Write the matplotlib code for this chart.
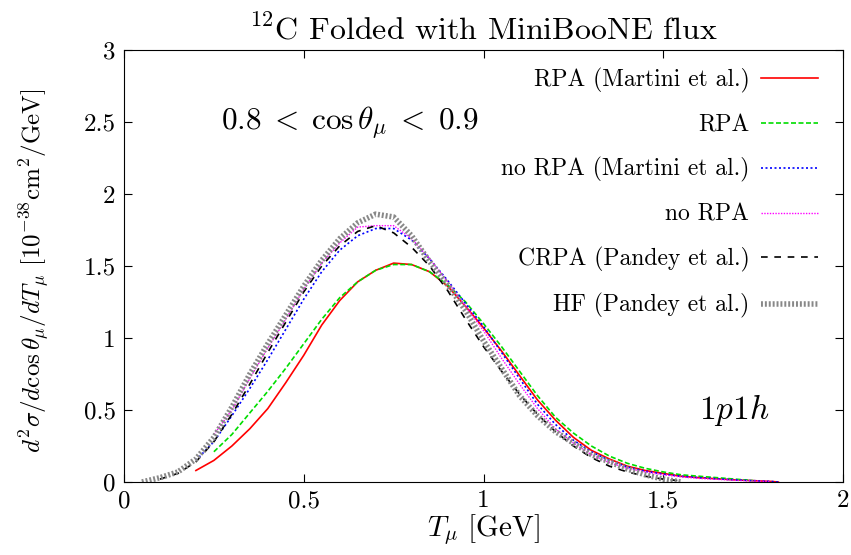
import numpy as np
import matplotlib as mpl
from matplotlib import pyplot as plt

mpl.rcParams['font.family'] = 'serif'
mpl.rcParams['font.serif'] = ['cmr10', 'DejaVu Serif']
mpl.rcParams['mathtext.fontset'] = 'cm'
mpl.rcParams['axes.formatter.use_mathtext'] = True
mpl.rcParams['font.size'] = 17


# (T_mu in GeV, cross section in 1e-38 cm^2/GeV)

x_rpa_m = [0.2, 0.25, 0.3, 0.35, 0.4, 0.45, 0.5, 0.55, 0.6, 0.65, 0.7, 0.75, 0.8, 0.85,
           0.9, 0.95, 1.0, 1.05, 1.1, 1.15, 1.2, 1.25, 1.3, 1.35, 1.4, 1.45, 1.5, 1.55,
           1.6, 1.7, 1.8, 1.82]
y_rpa_m = [0.08, 0.15, 0.25, 0.37, 0.51, 0.69, 0.88, 1.09, 1.26, 1.39, 1.47, 1.52, 1.51, 1.46,
           1.36, 1.22, 1.07, 0.91, 0.74, 0.57, 0.43, 0.31, 0.22, 0.16, 0.11, 0.08, 0.06, 0.04,
           0.03, 0.015, 0.004, 0.0]

x_rpa = [0.25, 0.3, 0.35, 0.4, 0.45, 0.5, 0.55, 0.6, 0.65, 0.7, 0.75, 0.8, 0.85, 0.9,
         0.95, 1.0, 1.05, 1.1, 1.15, 1.2, 1.25, 1.3, 1.35, 1.4, 1.45, 1.5, 1.55, 1.6,
         1.7, 1.75]
y_rpa = [0.21, 0.33, 0.48, 0.63, 0.79, 0.96, 1.13, 1.28, 1.39, 1.47, 1.51, 1.51, 1.46, 1.37,
         1.25, 1.10, 0.94, 0.77, 0.60, 0.45, 0.34, 0.25, 0.18, 0.13, 0.095, 0.07, 0.05, 0.04,
         0.02, 0.01]

x_norpa_m = [0.2, 0.25, 0.3, 0.35, 0.4, 0.45, 0.5, 0.55, 0.6, 0.65, 0.7, 0.75, 0.8, 0.85,
             0.9, 0.95, 1.0, 1.05, 1.1, 1.15, 1.2, 1.25, 1.3, 1.35, 1.4, 1.45, 1.5, 1.55,
             1.6, 1.7, 1.8, 1.82]
y_norpa_m = [0.15, 0.28, 0.46, 0.65, 0.85, 1.06, 1.27, 1.46, 1.61, 1.71, 1.76, 1.76, 1.68, 1.55,
             1.40, 1.24, 1.08, 0.90, 0.72, 0.54, 0.40, 0.29, 0.21, 0.15, 0.105, 0.075, 0.055, 0.04,
             0.03, 0.015, 0.004, 0.0]

x_norpa = [0.25, 0.3, 0.35, 0.4, 0.45, 0.5, 0.55, 0.6, 0.65, 0.7, 0.75, 0.8, 0.85, 0.9,
           0.95, 1.0, 1.05, 1.1, 1.15, 1.2, 1.25, 1.3, 1.35, 1.4, 1.45, 1.5, 1.55, 1.6,
           1.7, 1.8]
y_norpa = [0.33, 0.50, 0.72, 0.93, 1.13, 1.34, 1.52, 1.66, 1.77, 1.78, 1.78, 1.69, 1.55, 1.39,
           1.22, 1.05, 0.86, 0.68, 0.51, 0.37, 0.27, 0.19, 0.135, 0.095, 0.07, 0.05, 0.035, 0.025,
           0.012, 0.003]

x_crpa = [0.1, 0.15, 0.2, 0.25, 0.3, 0.35, 0.4, 0.45, 0.5, 0.55, 0.6, 0.65, 0.7, 0.75,
          0.8, 0.85, 0.9, 0.95, 1.0, 1.05, 1.1, 1.15, 1.2, 1.25, 1.3, 1.35, 1.4, 1.45,
          1.5, 1.55]
y_crpa = [0.02, 0.06, 0.14, 0.28, 0.47, 0.68, 0.90, 1.11, 1.32, 1.50, 1.64, 1.74, 1.78, 1.73,
          1.63, 1.50, 1.33, 1.13, 0.94, 0.77, 0.61, 0.47, 0.35, 0.25, 0.17, 0.11, 0.07, 0.04,
          0.02, 0.008]

x_hf = [0.05, 0.1, 0.15, 0.2, 0.25, 0.3, 0.35, 0.4, 0.45, 0.5, 0.55, 0.6, 0.65, 0.7,
        0.75, 0.8, 0.85, 0.9, 0.95, 1.0, 1.05, 1.1, 1.15, 1.2, 1.25, 1.3, 1.35, 1.4,
        1.45, 1.5, 1.55]
y_hf = [0.0, 0.03, 0.07, 0.16, 0.31, 0.52, 0.75, 0.96, 1.16, 1.36, 1.54, 1.69, 1.80, 1.86,
        1.84, 1.71, 1.53, 1.37, 1.19, 0.98, 0.79, 0.60, 0.46, 0.35, 0.27, 0.19, 0.14, 0.09,
        0.05, 0.02, 0.0]

xticks = [0, 0.5, 1, 1.5, 2]
xticklabels = ['0', '0.5', '1', '1.5', '2']
yticks = [0, 0.5, 1, 1.5, 2, 2.5, 3]
yticklabels = ['0', '0.5', '1', '1.5', '2', '2.5', '3']


fig = plt.figure(figsize=(8.51, 5.55), dpi=100)
ax = fig.add_axes([0.1457, 0.1315, 0.845, 0.7785])

ax.plot(x_rpa_m, y_rpa_m, color='#ff0000', lw=1.2, ls='-',
        label='RPA (Martini et al.)')
ax.plot(x_rpa, y_rpa, color='#00dd00', lw=1.2, ls=(0, (3, 1.5)),
        label='RPA')
ax.plot(x_norpa_m, y_norpa_m, color='#0000ff', lw=1.2, ls=(0, (1.2, 1.5)),
        label='no RPA (Martini et al.)')
ax.plot(x_norpa, y_norpa, color='#ff00ff', lw=1.0, ls=(0, (1, 1)),
        label='no RPA')
ax.plot(x_crpa, y_crpa, color='black', lw=1.2, ls=(0, (4, 4)),
        label='CRPA (Pandey et al.)')
ax.plot(x_hf, y_hf, color='#888888', lw=4, ls=(0, (0.35, 0.35)),
        label='HF (Pandey et al.)')

ax.set_xlim(0, 2)
ax.set_ylim(0, 3)
ax.set_xticks(xticks)
ax.set_xticklabels(xticklabels)
ax.set_yticks(yticks)
ax.set_yticklabels(yticklabels)
ax.tick_params(direction='in', top=True, right=True, length=6, labelsize=18, pad=6)

ax.set_xlabel(r'$T_\mu$ [GeV]', fontsize=21, labelpad=0)
ax.set_ylabel(r'$d^2\sigma/d\cos\theta_\mu/dT_\mu$ [$10^{-38}$cm$^2$/GeV]', fontsize=18)
ax.yaxis.set_label_coords(-0.100, 0.49)
ax.set_title(r'$^{12}$C Folded with MiniBooNE flux', fontsize=23, pad=8)

ax.text(0.27, 2.49, r'$0.8\;<\;\cos\theta_\mu\;<\;0.9$', fontsize=22.5, va='center')
ax.text(1.6, 0.5, r'$1p1h$', fontsize=24, va='center')

ax.legend(loc='upper right', frameon=False, markerfirst=False, fontsize=17,
          handlelength=2.4, handletextpad=0.5, labelspacing=0.9,
          bbox_to_anchor=(0.978, 0.981), borderaxespad=0.0)

plt.savefig('out.png')
